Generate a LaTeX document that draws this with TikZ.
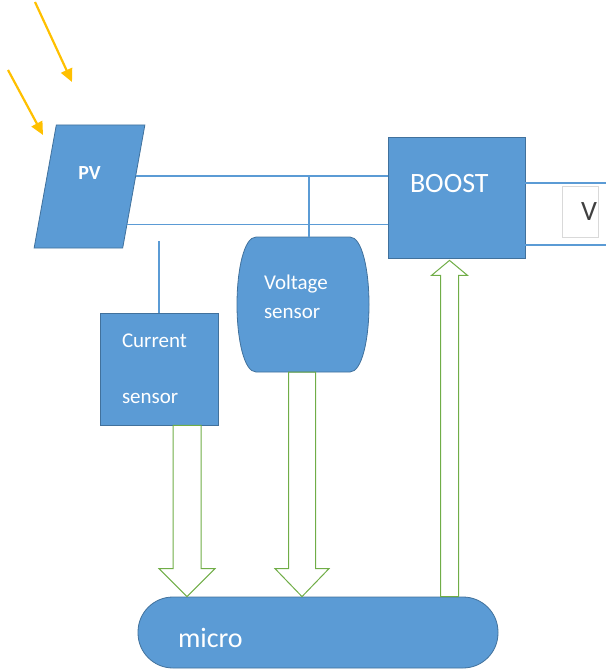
\documentclass[tikz,border=0pt]{standalone}
\usepackage{fontspec}
\setmainfont{Carlito}
\usepackage{tikz}
\usetikzlibrary{shapes.geometric, arrows.meta, calc}
\definecolor{blockblue}{RGB}{91, 155, 213}
\definecolor{edgeblue}{RGB}{65, 113, 156}
\definecolor{flowgreen}{RGB}{112, 173, 71}
\definecolor{sunyellow}{RGB}{255, 192, 0}
\definecolor{boxgray}{RGB}{217, 217, 217}
\definecolor{textgray}{RGB}{64, 64, 64}

% hollow block arrow: from, to, half shaft, half head, head length
\newcommand{\blockarrow}[5]{%
  \draw[flow] let \p1=(#1), \p2=(#2), \n1={sign(\y2-\y1)*#5} in
    (\x1-#3,\y1) -- (\x1-#3,\y2-\n1) -- (\x1-#4,\y2-\n1) -- (\x2,\y2)
    -- (\x1+#4,\y2-\n1) -- (\x1+#3,\y2-\n1) -- (\x1+#3,\y1) -- cycle;}

\begin{document}
\begin{tikzpicture}[x=1pt, y=-1pt,
  block/.style={draw=edgeblue, fill=blockblue, text=white, line width=0.8pt},
  wire/.style={draw=blockblue, line width=1.2pt},
  flow/.style={draw=flowgreen, line width=1pt},
  sun/.style={draw=sunyellow, line width=2.2pt, -{Triangle[length=13pt, width=12pt]}},
  small/.style={font=\fontsize{21}{24}\selectfont},
  big/.style={font=\fontsize{28}{34}\selectfont}]
\useasboundingbox (0,0) rectangle (606,671);

% Sun rays
\coordinate (ray1) at (35,2);
\coordinate (ray2) at (8,70);
\draw[sun] (ray1) -- (72,82);
\draw[sun] (ray2) -- (43,135);

% Blocks
\node[block, trapezium, trapezium stretches=true, trapezium left angle=78,
  trapezium right angle=102, minimum width=111, minimum height=123,
  text depth=26, font=\bfseries\fontsize{20}{24}\selectfont] (pv) at (89.5,186.5) {PV};
\node[block, big, minimum width=137, minimum height=121, text width=93,
  align=left, text depth=29] (boost) at (456.5,197.5) {BOOST};
\node[block, small, minimum width=118, minimum height=112, text width=74,
  align=left] (isense) at (159,369) {Current\\[32pt]sensor};
\node[block, big, rounded corners=35, minimum width=360, minimum height=71,
  text width=280, align=left, text height=31] (micro) at (318,632.5) {micro};

% Voltage sensor (barrel)
\coordinate (vtop) at (309,237);
\coordinate (vbot) at (302,372);
\draw[block] (256,237) -- (350,237) .. controls (362,237) and (369,270) .. (369,304.5)
  .. controls (369,339) and (362,372) .. (350,372) -- (256,372)
  .. controls (244,372) and (237,339) .. (237,304.5)
  .. controls (237,270) and (244,237) .. cycle;
\node[text=white, text width=78, align=left,
  font=\fontsize{21}{29}\selectfont] (vsense) at (303,296.5) {Voltage\\sensor};

% Output box
\node[draw=boxgray, fill=white, line width=0.6pt, big, text=textgray,
  minimum width=36, minimum height=51, text width=34, inner xsep=1pt,
  align=right] (vbox) at (580,211.5) {V};

% Wires
\draw[wire] ($(pv.top right corner)!0.415!(pv.bottom right corner)$) coordinate (pvtop)
  -- (pvtop -| boost.west);
\draw[wire] ($(pv.top right corner)!0.81!(pv.bottom right corner)$) coordinate (pvbot)
  -- (pvbot -| boost.west);
\draw[wire] (vtop |- pvtop) -- (vtop);
\draw[wire] (isense.north) -- ++(0,-72);
\coordinate (out1) at (606,183);
\coordinate (out2) at (606,245);
\draw[wire] (boost.east |- out1) -- (out1);
\draw[wire] (boost.east |- out2) -- (out2);

% Signal arrows
\coordinate (iout) at ($(isense.south)+(28,0)$);
\coordinate (bin) at ($(boost.south)+(-7,2)$);
\blockarrow{iout}{iout |- micro.north}{14}{28}{28}
\blockarrow{vbot}{vbot |- micro.north}{13.5}{27}{28}
\blockarrow{bin |- micro.north}{bin}{9}{18}{15}
\end{tikzpicture}
\end{document}
